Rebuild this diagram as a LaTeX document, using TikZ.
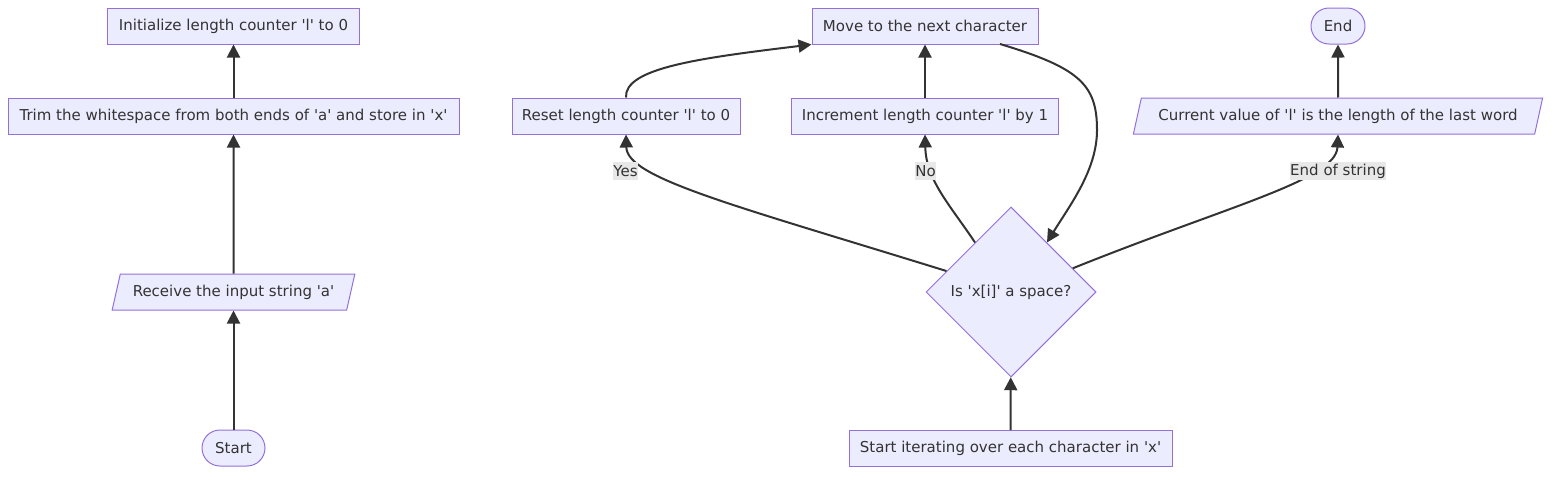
\documentclass[tikz,border=0pt]{standalone}
\usepackage{fontspec}
\setmainfont{DejaVu Sans}
\usetikzlibrary{shapes.geometric,arrows.meta}
\definecolor{nodefill}{HTML}{ECECFF}
\definecolor{nodeline}{HTML}{9370DB}
\definecolor{ink}{HTML}{333333}
\definecolor{lblbg}{HTML}{E8E8E8}
\newcommand{\qq}{\textquotesingle}
\tikzset{
  base/.style={draw=nodeline, fill=nodefill, line width=1pt, text=ink,
    font=\fontsize{15}{19}\selectfont, inner sep=0pt, minimum height=36pt},
  procbox/.style={base, rectangle},
  termbox/.style={base, rectangle, rounded corners=18pt},
  iobox/.style={base, trapezium, trapezium left angle=63.43, trapezium right angle=116.57,
    trapezium stretches=true},
  decbox/.style={base, diamond, minimum width=170pt, minimum height=170pt},
  flow/.style={draw=ink, line width=2pt, -{Triangle[length=13pt,width=13pt]}},
  elabel/.style={fill=lblbg, text=ink, font=\fontsize{15}{19}\selectfont,
    inner xsep=0.5pt, inner ysep=0pt, minimum height=18pt}
}
\begin{document}
\begin{tikzpicture}[x=1pt, y=-1pt]
\useasboundingbox (0,0) rectangle (1568,480);
% left column
\node[procbox, minimum width=252pt] (init) at (233.5,26) {Initialize length counter \qq l\qq{} to 0};
\node[procbox, minimum width=451pt] (trim) at (233.5,116) {Trim the whitespace from both ends of \qq a\qq{} and store in \qq x\qq};
\node[iobox, minimum width=243pt] (recv) at (233.5,292) {Receive the input string \qq a\qq};
\node[termbox, minimum width=63pt] (start) at (233.5,448) {Start};
% right part
\node[procbox, minimum width=226pt] (move) at (925,26) {Move to the next character};
\node[procbox, minimum width=228pt] (reset) at (626,116) {Reset length counter \qq l\qq{} to 0};
\node[procbox, minimum width=267pt] (incr) at (925,116) {Increment length counter \qq l\qq{} by 1};
\node[termbox, minimum width=54pt] (end) at (1338,26) {End};
\node[iobox, minimum width=410pt] (cur) at (1338,116) {Current value of \qq l\qq{} is the length of the last word};
\node[decbox] (dec) at (1011,292) {Is \qq x[i]\qq{} a space?};
\node[procbox, minimum width=323pt] (iter) at (1010.5,448.5) {Start iterating over each character in \qq x\qq};
% straight edges
\draw[flow] (start) -- (recv);
\draw[flow] (recv) -- (trim);
\draw[flow] (trim) -- (init);
\draw[flow] (iter) -- (dec);
\draw[flow] (incr) -- (move);
\draw[flow] (cur) -- (end);
% curved edges
\draw[flow] (dec.162) .. controls (730,204) and (627,178) .. (reset.south);
\draw[flow] (dec.126) .. controls (950,205) and (926,180) .. (incr.south);
\draw[flow] (dec.21) .. controls (1230,205) and (1336,180) .. (cur.south);
\draw[flow] (reset.north) .. controls (624,68) and (700,58) .. (move.south west);
\coordinate (mv) at (1000,44);
\draw[flow] (mv) .. controls (1080,68) and (1097,85) .. (1097,130)
  .. controls (1097,170) and (1070,205) .. (dec.54);
% edge labels
\node[elabel] (lyes) at (625.5,171) {Yes};
\node[elabel] (lno) at (925.5,171) {No};
\node[elabel] (leos) at (1338,171) {End of string};
\end{tikzpicture}
\end{document}
